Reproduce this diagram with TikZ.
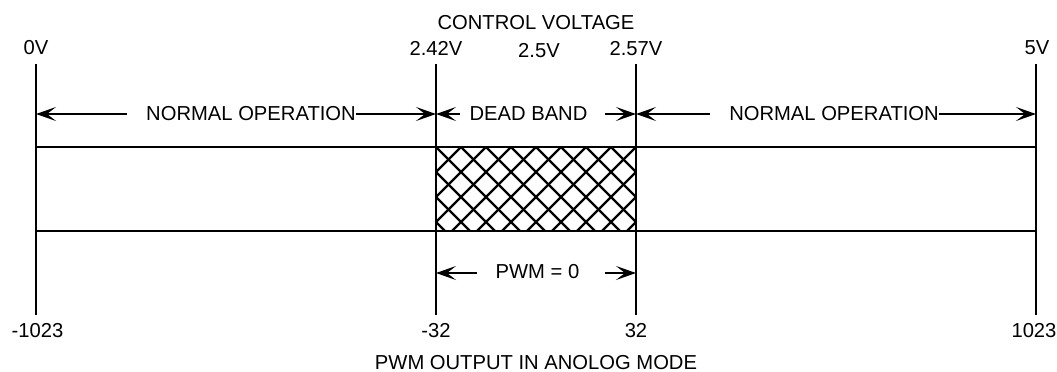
\documentclass[tikz,border=0pt]{standalone}
\usepackage{fontspec}
\setmainfont{Liberation Sans}
\usetikzlibrary{arrows.meta}

\begin{document}
\begin{tikzpicture}[
    x=0.5pt, y=-0.5pt,
    lbl/.style={font=\fontsize{10.1}{12}\selectfont, inner sep=0pt, anchor=base},
    arr/.style={-{Stealth[length=10pt,width=7pt,inset=4.5pt]}, line width=0.8pt},
    tick/.style={line width=0.9pt},
    bar/.style={line width=1.2pt},
    hatch/.style={line width=1.1pt},
  ]
  \useasboundingbox (0,0) rectangle (1057,371);

  % scale lines
  \foreach \n/\x in {0/36, 1/436, 2/636, 3/1036} {
    \coordinate (t\n) at (\x,64);
    \coordinate (b\n) at (\x,315);
    \coordinate (a\n) at (\x,114);
    \coordinate (p\n) at (\x,273);
    \draw[tick] (t\n) -- (b\n);
  }

  % dead band hatching
  \begin{scope}
    \clip (436,147) rectangle (636,231);
    \foreach \k in {-4,...,12} {
      \draw[hatch] (436+25*\k,147) -- ++(84,84);
      \draw[hatch] (436+25*\k,147) -- ++(-84,84);
    }
  \end{scope}
  \draw[bar] (36,147) rectangle (1036,231);

  % voltage labels
  \node[lbl] (title) at (536,29) {CONTROL VOLTAGE};
  \node[lbl] (v0) at (36,54) {0V};
  \node[lbl] (v1) at (436,55) {2.42V};
  \node[lbl] (vm) at (539,57) {2.5V};
  \node[lbl] (v2) at (636,55) {2.57V};
  \node[lbl] (v3) at (1037,54) {5V};

  % operating ranges
  \node[lbl] (nop1) at (251,120) {NORMAL OPERATION};
  \node[lbl] (dead) at (528.5,120) {DEAD BAND};
  \node[lbl] (nop2) at (834,120) {NORMAL OPERATION};
  \coordinate (nop1l) at (127,114);
  \coordinate (deadl) at (460,114);
  \coordinate (deadr) at (605,114);
  \coordinate (nop2l) at (710,114);
  \draw[arr] (nop1l) -- (a0);
  \draw[arr] (nop1.east |- a1) -- (a1);
  \draw[arr] (deadl) -- (a1);
  \draw[arr] (deadr) -- (a2);
  \draw[arr] (nop2l) -- (a2);
  \draw[arr] (nop2.east |- a3) -- (a3);

  % pwm zero
  \node[lbl] (pwm) at (537.5,278) {PWM = 0};
  \coordinate (pwml) at (477,273);
  \coordinate (pwmr) at (605,273);
  \draw[arr] (pwml) -- (p1);
  \draw[arr] (pwmr) -- (p2);

  % pwm labels
  \node[lbl] (w0) at (37.5,337.5) {-1023};
  \node[lbl] (w1) at (436,337.5) {-32};
  \node[lbl] (w2) at (636,337.5) {32};
  \node[lbl] (w3) at (1034,337.5) {1023};
  \node[lbl] (foot) at (536,369.5) {PWM OUTPUT IN ANOLOG MODE};
\end{tikzpicture}
\end{document}
